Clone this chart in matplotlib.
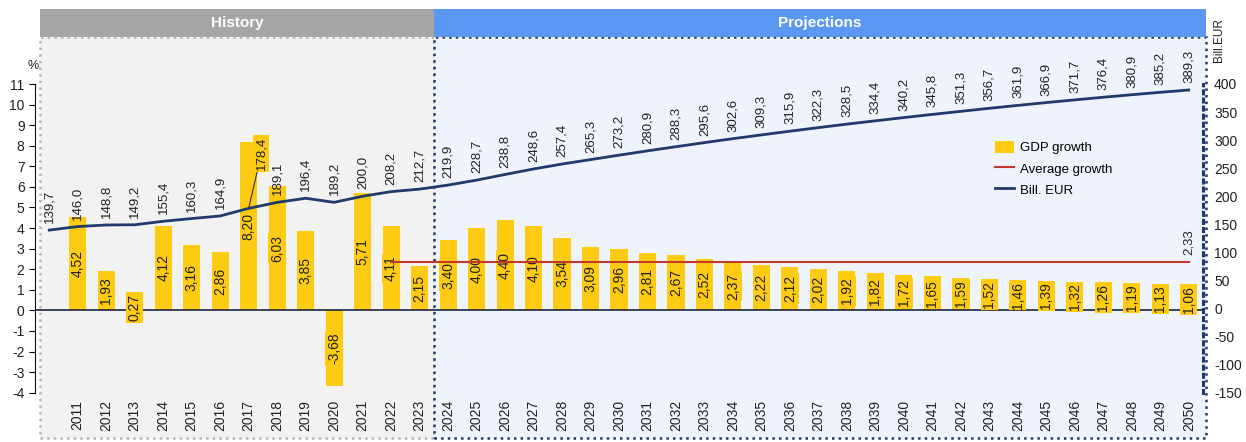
import matplotlib
matplotlib.use('Agg')
import matplotlib.pyplot as plt
from matplotlib.patches import Rectangle, Patch
from matplotlib.lines import Line2D
from matplotlib.transforms import blended_transform_factory

plt.rcParams['font.family'] = ['Liberation Sans', 'DejaVu Sans']
plt.rcParams['axes.unicode_minus'] = False

# data
years = list(range(2011, 2051))
gdp_growth = [4.52, 1.93, 0.27, 4.12, 3.16, 2.86, 8.20, 6.03, 3.85, -3.68,
              5.71, 4.11, 2.15, 3.40, 4.00, 4.40, 4.10, 3.54, 3.09, 2.96,
              2.81, 2.67, 2.52, 2.37, 2.22, 2.12, 2.02, 1.92, 1.82, 1.72,
              1.65, 1.59, 1.52, 1.46, 1.39, 1.32, 1.26, 1.19, 1.13, 1.06]
line_years = list(range(2010, 2051))
bill_eur = [139.7, 146.0, 148.8, 149.2, 155.4, 160.3, 164.9, 178.4, 189.1, 196.4,
            189.2, 200.0, 208.2, 212.7, 219.9, 228.7, 238.8, 248.6, 257.4, 265.3,
            273.2, 280.9, 288.3, 295.6, 302.6, 309.3, 315.9, 322.3, 328.5, 334.4,
            340.2, 345.8, 351.3, 356.7, 361.9, 366.9, 371.7, 376.4, 380.9, 385.2,
            389.3]
avg_growth = 2.33
avg_years = [2022, 2050]
history_end = 2023.5

YELLOW = '#fccb12'
NAVY = '#1f3a6b'
RED = '#c0392b'
TXT = '#222222'


def fmt(v, d):
    return f'{v:.{d}f}'.replace('.', ',')


W, H = 1246, 442
fig = plt.figure(figsize=(W / 100, H / 100), dpi=100)
ax = fig.add_axes([35 / W, 1 - 392.7 / H, (1203 - 35) / W, (392.7 - 84) / H])
ax.patch.set_visible(False)
ax.set_xlim(2009.5, 2050.5)
ax.set_ylim(-4, 11)

# background panels and headers (x in data, y in figure)
tr = blended_transform_factory(ax.transData, fig.transFigure)
y_lo, y_hi, y_head = 1 - 438 / H, 1 - 37 / H, 1 - 9 / H
x0, x1 = 2009.68, 2050.62
ax.add_patch(Rectangle((x0, y_lo), history_end - x0, y_hi - y_lo, transform=tr,
                       facecolor='#f2f2f2', edgecolor='#b5b5b5', ls=':', lw=1.8,
                       clip_on=False, zorder=0))
ax.add_patch(Rectangle((history_end, y_lo), x1 - history_end, y_hi - y_lo, transform=tr,
                       facecolor='#eff3fb', edgecolor=NAVY, ls=':', lw=1.8,
                       clip_on=False, zorder=0))
ax.add_patch(Rectangle((x0, y_hi), history_end - x0, y_head - y_hi, transform=tr,
                       facecolor='#a6a6a6', edgecolor='none', clip_on=False, zorder=0))
ax.add_patch(Rectangle((history_end, y_hi), x1 - history_end, y_head - y_hi, transform=tr,
                       facecolor='#5b97f2', edgecolor='none', clip_on=False, zorder=0))
ax.text((x0 + history_end) / 2, (y_hi + y_head) / 2, 'History', transform=tr,
        ha='center', va='center', color='white', fontsize=11, fontweight='bold')
ax.text((history_end + x1) / 2, (y_hi + y_head) / 2, 'Projections', transform=tr,
        ha='center', va='center', color='white', fontsize=11, fontweight='bold')

# bars
ax.bar(years, gdp_growth, width=0.6, color=YELLOW, zorder=2)
for yr, v in zip(years, gdp_growth):
    ax.text(yr, v / 2, fmt(v, 2), rotation=90, ha='center', va='center',
            fontsize=10, color=TXT, zorder=3,
            bbox=dict(boxstyle='square,pad=0.12', fc=YELLOW, ec='none'))
ax.axhline(0, color='#1a2540', lw=1.2, zorder=2.5)

# average growth
ax.plot(avg_years, [avg_growth, avg_growth], color=RED, lw=1.5, zorder=4)
ax.annotate(fmt(avg_growth, 2), (avg_years[1], avg_growth), xytext=(0, 5),
            textcoords='offset points', rotation=90, ha='center', va='bottom',
            fontsize=9.5, color=TXT)

# axes styling
for s in ['top', 'right', 'bottom']:
    ax.spines[s].set_visible(False)
ax.spines['left'].set_color('#111111')
ax.set_xticks(years)
ax.set_xticklabels(years, rotation=90)
ax.tick_params(axis='x', length=0, pad=5, labelsize=10, labelcolor=TXT)
ax.set_yticks(range(-4, 12))
ax.tick_params(axis='y', length=4, direction='out', labelsize=10, labelcolor=TXT)

# Bill. EUR line on right axis
ax2 = ax.twinx()
ax2.set_ylim(-150, 400)
ax2.plot(line_years, bill_eur, color=NAVY, lw=2, zorder=3)
for yr, v in zip(line_years, bill_eur):
    if yr == 2017:
        continue
    ax2.annotate(fmt(v, 1), (yr, v), xytext=(0, 5), textcoords='offset points',
                 rotation=90, ha='center', va='bottom', fontsize=9.5, color=TXT)
# moved label with leader line
ax2.annotate(fmt(178.4, 1), (2017, 178.4), xytext=(2017.45, 247),
             rotation=90, ha='center', va='bottom', fontsize=9.5, color=TXT,
             bbox=dict(boxstyle='square,pad=0.15', fc=YELLOW, ec='none'),
             arrowprops=dict(arrowstyle='-', color='#333333', lw=0.8,
                             shrinkA=0, shrinkB=0))
for s in ['top', 'left', 'bottom']:
    ax2.spines[s].set_visible(False)
ax2.spines['right'].set_color(NAVY)
ax2.spines['right'].set_linestyle(':')
ax2.spines['right'].set_linewidth(2.2)
ax2.set_yticks(range(-150, 401, 50))
ax2.tick_params(axis='y', length=0, pad=8, labelsize=10, labelcolor=TXT)

fig.text(33 / W, 1 - 66 / H, '%', ha='center', va='center', fontsize=9, color=TXT)
fig.text(1219 / W, 1 - 40 / H, 'Bill.EUR', rotation=90, ha='center', va='center',
         fontsize=8.5, color=TXT)

handles = [Patch(facecolor=YELLOW, edgecolor='none'),
           Line2D([], [], color=RED, lw=1.5),
           Line2D([], [], color=NAVY, lw=2)]
ax2.legend(handles, ['GDP growth', 'Average growth', 'Bill. EUR'],
           loc='upper left', bbox_to_anchor=(0.812, 0.855), frameon=False,
           fontsize=9.5, handlelength=1.4, handleheight=1.1, labelspacing=0.55,
           handletextpad=0.5)

fig.savefig('out.png', dpi=100)
